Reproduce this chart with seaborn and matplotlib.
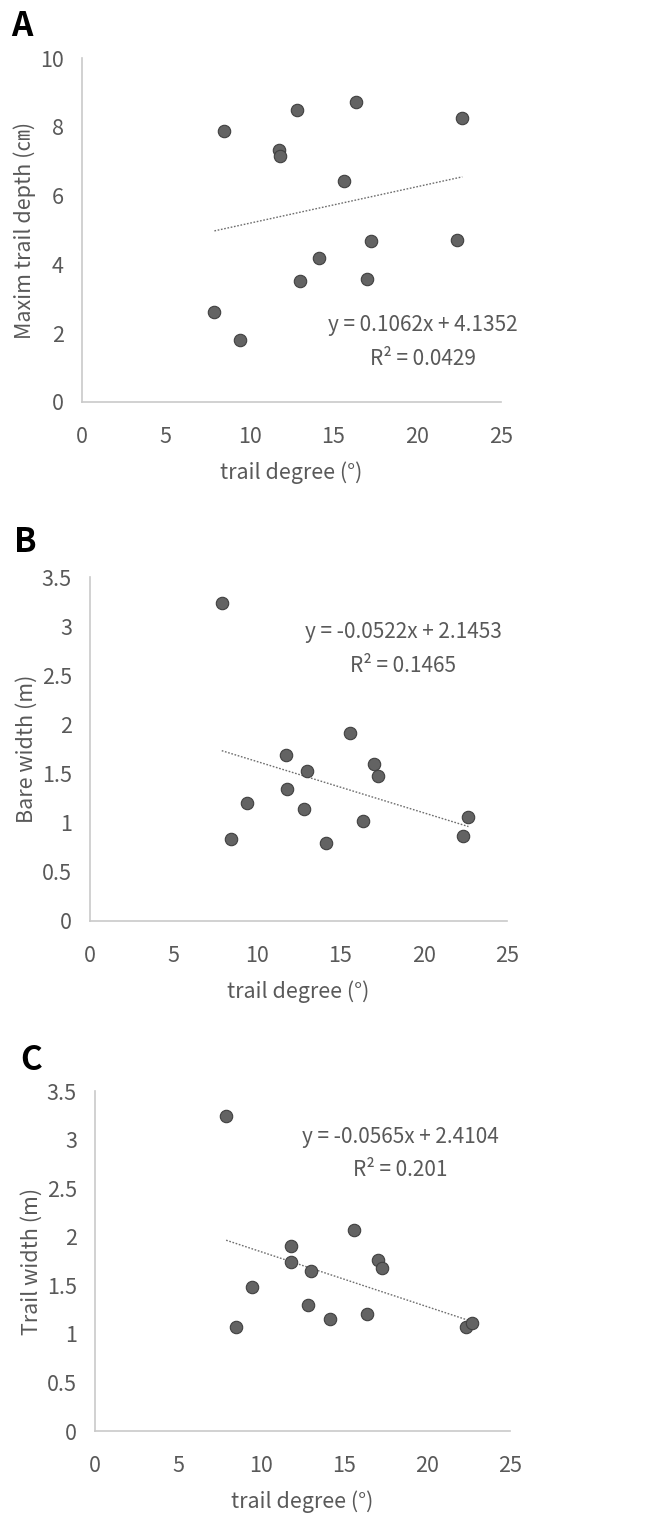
import matplotlib
matplotlib.use("Agg")
import matplotlib.pyplot as plt
import seaborn as sns
import numpy as np
import pandas as pd
from matplotlib.ticker import FuncFormatter

# ---- data ----
degree = [7.9, 8.47, 9.43, 11.78, 11.79, 12.82, 13.03, 14.15, 15.61, 16.36, 17.02, 17.26, 22.36, 22.69]
max_depth = [2.62, 7.87, 1.79, 7.32, 7.15, 8.50, 3.51, 4.20, 6.41, 8.72, 3.57, 4.69, 4.70, 8.25]
bare_width = [3.235, 0.838, 1.200, 1.689, 1.346, 1.136, 1.526, 0.793, 1.913, 1.017, 1.600, 1.475, 0.865, 1.061]
trail_width = [3.24, 1.067, 1.479, 1.908, 1.743, 1.294, 1.651, 1.150, 2.069, 1.201, 1.757, 1.682, 1.067, 1.112]

slopes = [0.1062, -0.0522, -0.0565]
intercepts = [4.1352, 2.1453, 2.4104]
eq_labels = ["y = 0.1062x + 4.1352", "y = -0.0522x + 2.1453", "y = -0.0565x + 2.4104"]
r2_labels = ["R² = 0.0429", "R² = 0.1465", "R² = 0.201"]
ylabels = ["Maxim trail depth (㎝)", "Bare width (m)", "Trail width (m)"]
panel_letters = ["A", "B", "C"]
xlabel = "trail degree (°)"
x_ticks = [0, 5, 10, 15, 20, 25]
y_ticks_list = [[0, 2, 4, 6, 8, 10], [0, 0.5, 1, 1.5, 2, 2.5, 3, 3.5], [0, 0.5, 1, 1.5, 2, 2.5, 3, 3.5]]

sns.set_theme(style="white")
plt.rcParams['font.family'] = ['Noto Sans CJK KR', 'DejaVu Sans']

W, H = 661, 1517
fig = plt.figure(figsize=(W / 100, H / 100), dpi=100)

# axes boxes in pixels: left, right, top, bottom
boxes = [(82, 501, 58, 402), (90, 507, 577, 921), (95, 510, 1091, 1431)]
letter_pos = [(22, 27), (25, 543), (31, 1060)]
eq_pos = [(423, 325, 359), (403, 632, 666), (400, 1137, 1170)]
ylabel_x = [25, 27, 32]
xlabel_y = [473, 992, 1502]

TXT = "#595959"
ys = [max_depth, bare_width, trail_width]

for i in range(3):
    l, r, t, b = boxes[i]
    ax = fig.add_axes([l / W, 1 - b / H, (r - l) / W, (b - t) / H])
    df = pd.DataFrame({"x": degree, "y": ys[i]})
    sns.scatterplot(data=df, x="x", y="y", ax=ax, s=80, color="#636363",
                    edgecolor="#404040", linewidth=0.8, clip_on=False, zorder=3)
    xl = np.array([min(degree), max(degree)])
    line_df = pd.DataFrame({"x": xl, "y": slopes[i] * xl + intercepts[i]})
    sns.lineplot(data=line_df, x="x", y="y", ax=ax, color="#6e6e6e",
                 linestyle=(0, (1.2, 1.2)), linewidth=1.0, zorder=2)
    yt = y_ticks_list[i]
    ax.set_xlim(0, 25)
    ax.set_ylim(0, yt[-1])
    ax.set_xticks(x_ticks)
    ax.set_yticks(yt)
    ax.yaxis.set_major_formatter(FuncFormatter(lambda v, p: f"{v:g}"))
    ax.tick_params(axis="both", length=0, labelsize=15.5, labelcolor=TXT)
    ax.tick_params(axis="x", pad=17)
    ax.tick_params(axis="y", pad=13)
    for s in ["top", "right"]:
        ax.spines[s].set_visible(False)
    for s in ["left", "bottom"]:
        ax.spines[s].set_color("#c9c9c9")
        ax.spines[s].set_linewidth(1.2)
    ax.set_xlabel("")
    ax.set_ylabel("")
    fig.text(ylabel_x[i] / W, 1 - (t + b) / 2 / H, ylabels[i], rotation=90,
             ha="center", va="center", fontsize=15.5, color=TXT)
    fig.text((l + r) / 2 / W, 1 - xlabel_y[i] / H, xlabel, ha="center", va="center",
             fontsize=15.5, color=TXT)
    ex, ey1, ey2 = eq_pos[i]
    fig.text(ex / W, 1 - ey1 / H, eq_labels[i], ha="center", va="center", fontsize=15, color=TXT)
    fig.text(ex / W, 1 - ey2 / H, r2_labels[i], ha="center", va="center", fontsize=15, color=TXT)
    lx, ly = letter_pos[i]
    fig.text(lx / W, 1 - ly / H, panel_letters[i], ha="center", va="center",
             fontsize=24, color="black", fontweight="bold")

fig.savefig("out.png", dpi=100, facecolor="white")
